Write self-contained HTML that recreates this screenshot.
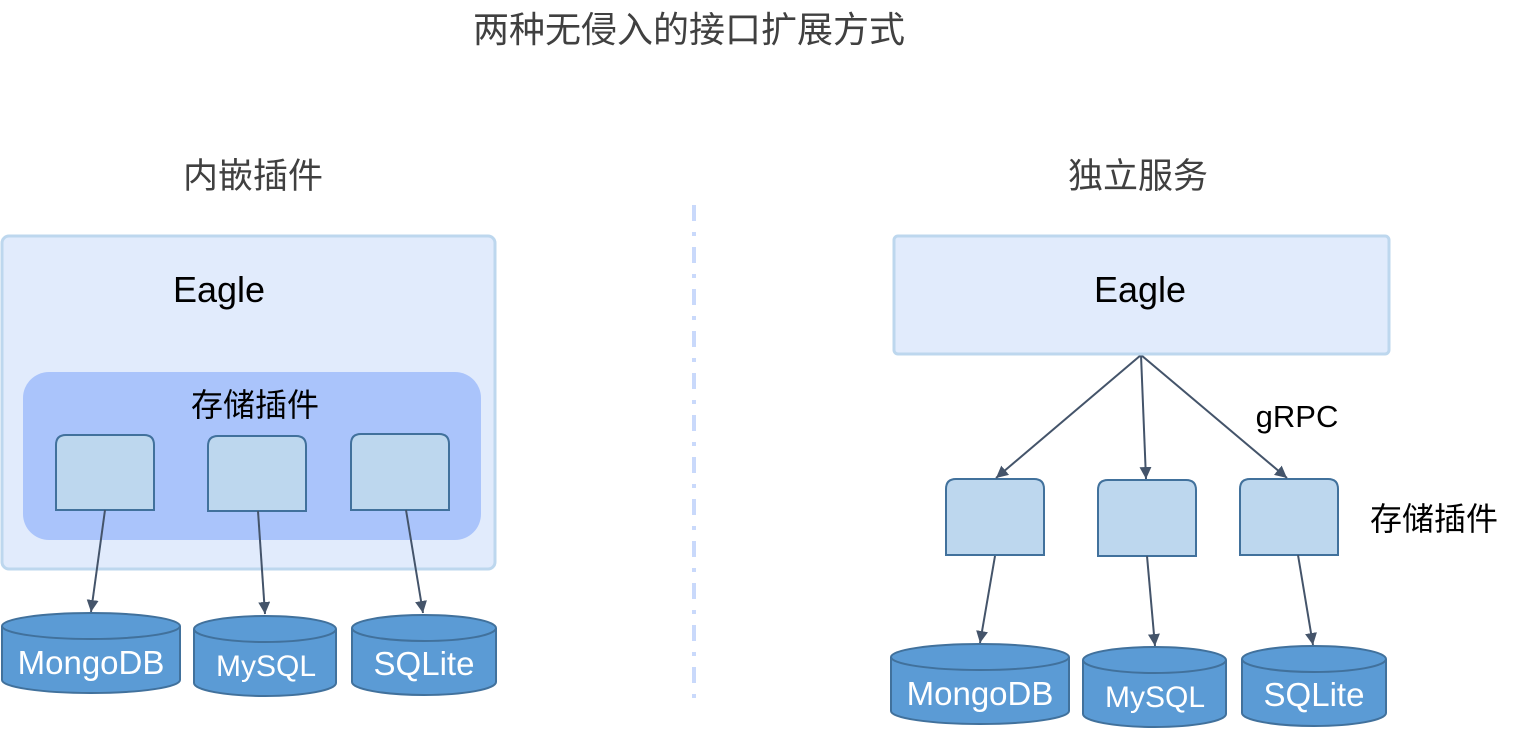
<!DOCTYPE html>
<html><head><meta charset="utf-8"><style>
html,body{margin:0;padding:0;background:#fff;}
svg{display:block;}
text{font-family:"Liberation Sans","Noto Sans CJK SC",sans-serif;}
</style></head><body>
<svg width="1535" height="729" viewBox="0 0 1535 729" xmlns="http://www.w3.org/2000/svg">
<defs>
<marker id="ar" markerWidth="14" markerHeight="14" refX="12" refY="6" orient="auto" markerUnits="userSpaceOnUse">
<path d="M0,0 L12,6 L0,12 Z" fill="#44546a"/>
</marker>
</defs>
<text x="689" y="42" font-size="36" fill="#404040" text-anchor="middle">两种无侵入的接口扩展方式</text>
<text x="253" y="188" font-size="35" fill="#404040" text-anchor="middle">内嵌插件</text>
<text x="1138" y="188" font-size="35" fill="#404040" text-anchor="middle">独立服务</text>

<line x1="694" y1="205" x2="694" y2="705" stroke="#c9d9fb" stroke-width="4" stroke-dasharray="16 11 4 11"/>

<!-- Left -->
<rect x="2" y="236" width="493" height="333" rx="7" fill="#e1ebfc" stroke="#bdd7ee" stroke-width="3"/>
<text x="219" y="302" font-size="36" fill="#000" text-anchor="middle">Eagle</text>
<rect x="23" y="372" width="458" height="168" rx="26" fill="#aac4fb"/>
<text x="255" y="416" font-size="32" fill="#000" text-anchor="middle">存储插件</text>

<g fill="#bdd7ee" stroke="#41719c" stroke-width="2">
<path d="M56,510 V445 Q56,435 66,435 H144 Q154,435 154,445 V510 Z"/>
<path d="M208,511 V446 Q208,436 218,436 H296 Q306,436 306,446 V511 Z"/>
<path d="M351,510 V444 Q351,434 361,434 H439 Q449,434 449,444 V510 Z"/>
<path d="M946,555 V489 Q946,479 956,479 H1034 Q1044,479 1044,489 V555 Z"/>
<path d="M1098,556 V490 Q1098,480 1108,480 H1186 Q1196,480 1196,490 V556 Z"/>
<path d="M1240,555 V489 Q1240,479 1250,479 H1328 Q1338,479 1338,489 V555 Z"/>
</g>

<g stroke="#44546a" stroke-width="2" marker-end="url(#ar)">
<line x1="105" y1="510" x2="91" y2="612"/>
<line x1="258" y1="511" x2="265" y2="614"/>
<line x1="406" y1="510" x2="423" y2="613"/>
<line x1="1141" y1="355" x2="996" y2="478"/>
<line x1="1141" y1="355" x2="1146" y2="479"/>
<line x1="1141" y1="355" x2="1287" y2="478"/>
<line x1="995" y1="556" x2="980" y2="643"/>
<line x1="1147" y1="556" x2="1155" y2="646"/>
<line x1="1298" y1="555" x2="1313" y2="645"/>
</g>

<!-- cylinders -->
<g fill="#5b9bd5" stroke="#41719c" stroke-width="2">
<path d="M2,626 V680 A89,13 0 0 0 180,680 V626"/>
<ellipse cx="91" cy="626" rx="89" ry="13"/>
<path d="M194,629 V683 A71,13 0 0 0 336,683 V629"/>
<ellipse cx="265" cy="629" rx="71" ry="13"/>
<path d="M352,628 V682 A72,13 0 0 0 496,682 V628"/>
<ellipse cx="424" cy="628" rx="72" ry="13"/>
<path d="M891,657 V711 A89,13 0 0 0 1069,711 V657"/>
<ellipse cx="980" cy="657" rx="89" ry="13"/>
<path d="M1083,660 V714 A71.5,13 0 0 0 1226,714 V660"/>
<ellipse cx="1154.5" cy="660" rx="71.5" ry="13"/>
<path d="M1242,659 V713 A72,13 0 0 0 1386,713 V659"/>
<ellipse cx="1314" cy="659" rx="72" ry="13"/>
</g>
<g fill="#fff" font-size="33" text-anchor="middle">
<text x="91" y="674">MongoDB</text>
<text x="266" y="676" font-size="30">MySQL</text>
<text x="424" y="675">SQLite</text>
<text x="980" y="705">MongoDB</text>
<text x="1155" y="707" font-size="30">MySQL</text>
<text x="1314" y="706">SQLite</text>
</g>

<!-- Right -->
<rect x="894" y="236" width="495" height="118" rx="4" fill="#e1ebfc" stroke="#bdd7ee" stroke-width="3"/>
<text x="1140" y="302" font-size="36" fill="#000" text-anchor="middle">Eagle</text>
<text x="1297" y="427" font-size="31" fill="#000" text-anchor="middle">gRPC</text>
<text x="1434" y="530" font-size="32" fill="#000" text-anchor="middle">存储插件</text>
</svg>
</body></html>
